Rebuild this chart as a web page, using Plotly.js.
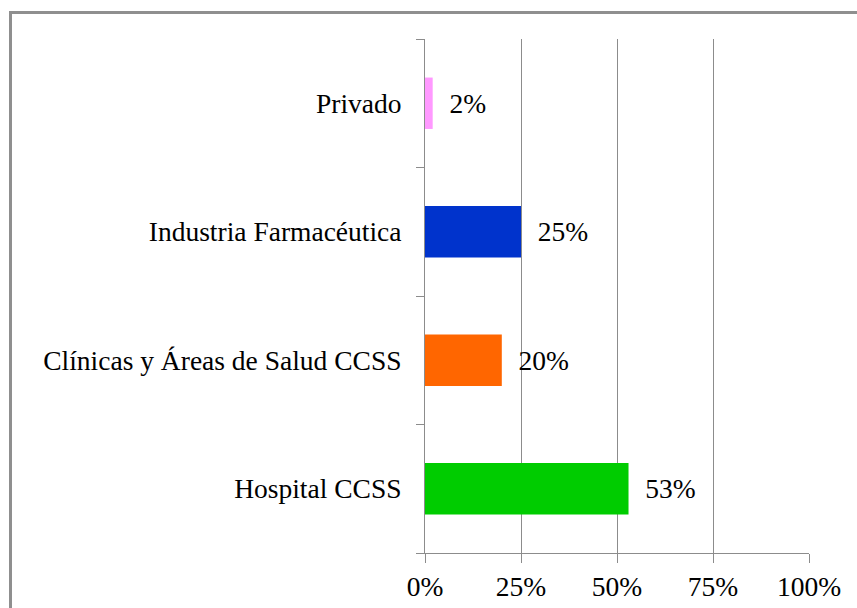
<!DOCTYPE html>
<html>
<head>
<meta charset="utf-8">
<script src="https://cdn.plot.ly/plotly-3.0.1.min.js"></script>
<style>
  html, body { margin: 0; padding: 0; background: #ffffff; }
  #wrap { position: relative; width: 857px; height: 608px; overflow: hidden; }
  #chart { position: absolute; left: 0; top: 0; width: 857px; height: 608px; }
  #frame { position: absolute; left: 9px; top: 11px; width: 900px; height: 700px;
           border-left: 3px solid #8f8f8f; border-top: 3px solid #8f8f8f; pointer-events: none; }
</style>
</head>
<body>
<div id="wrap">
  <div id="chart"></div>
  <div id="frame"></div>
</div>
<script>
// Categories listed bottom to top
const categories = ["Hospital CCSS", "Clínicas y Áreas de Salud CCSS", "Industria Farmacéutica", "Privado"];
const values = [53, 20, 25, 2];
const barColors = ["#00cc00", "#ff6600", "#0033cc", "#ff99ff"];
const xTickVals = [0, 25, 50, 75, 100];
const xTickText = ["0%", "25%", "50%", "75%", "100%"];

const serif = "Liberation Serif, Times New Roman, serif";

const trace = {
  type: "bar",
  orientation: "h",
  x: values,
  y: categories,
  marker: { color: barColors, line: { width: 0 } },
  text: values.map(v => "\u00a0\u00a0" + v + "%"),
  textposition: "outside",
  cliponaxis: false,
  textfont: { family: serif, size: 27.5, color: "#000000" },
  hoverinfo: "skip"
};

const layout = {
  width: 857,
  height: 608,
  margin: { l: 425, r: 48, t: 39, b: 55, pad: 0 },
  paper_bgcolor: "#ffffff",
  plot_bgcolor: "#ffffff",
  showlegend: false,
  bargap: 0.6,
  font: { family: serif, size: 27.5, color: "#000000" },
  xaxis: {
    range: [0, 100],
    tickmode: "array",
    tickvals: xTickVals,
    ticktext: xTickText,
    showgrid: true,
    gridcolor: "#8c8c8c",
    gridwidth: 1,
    zeroline: false,
    showline: true,
    linecolor: "#8c8c8c",
    linewidth: 1,
    ticks: "outside",
    ticklen: 9,
    tickcolor: "#8c8c8c",
    tickfont: { family: serif, size: 27.5, color: "#000000" },
    fixedrange: true
  },
  yaxis: {
    type: "category",
    categoryorder: "array",
    categoryarray: categories,
    tickson: "boundaries",
    ticks: "outside",
    ticklen: 8,
    tickcolor: "#8c8c8c",
    showline: true,
    linecolor: "#8c8c8c",
    linewidth: 1,
    showgrid: false,
    zeroline: false,
    tickfont: { family: serif, size: 27.5, color: "#000000" },
    ticklabelstandoff: 17,
    fixedrange: true
  }
};

Plotly.newPlot("chart", [trace], layout, { displayModeBar: false, staticPlot: true });
</script>
</body>
</html>
